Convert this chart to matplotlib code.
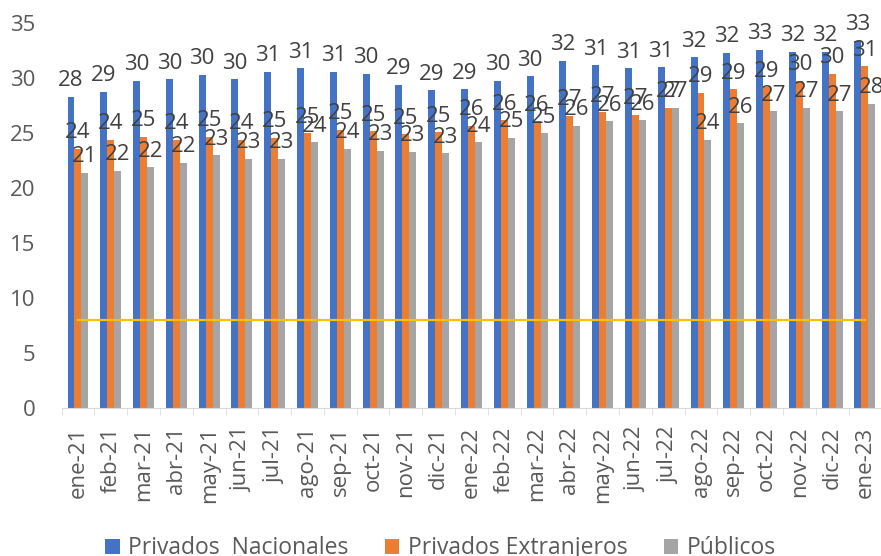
import numpy as np
import matplotlib.pyplot as plt

plt.rcParams['font.family'] = ['Open Sans', 'DejaVu Sans']

meses = ['ene-21', 'feb-21', 'mar-21', 'abr-21', 'may-21', 'jun-21', 'jul-21', 'ago-21',
         'sep-21', 'oct-21', 'nov-21', 'dic-21', 'ene-22', 'feb-22', 'mar-22', 'abr-22',
         'may-22', 'jun-22', 'jul-22', 'ago-22', 'sep-22', 'oct-22', 'nov-22', 'dic-22', 'ene-23']

privados_nacionales = [28.3, 28.8, 29.8, 29.9, 30.3, 29.9, 30.6, 30.9, 30.6, 30.4, 29.4, 28.9, 29.0,
                       29.8, 30.2, 31.6, 31.2, 30.9, 31.0, 31.9, 32.3, 32.6, 32.4, 32.4, 33.4]
privados_extranjeros = [23.6, 24.4, 24.7, 24.4, 24.7, 24.4, 24.6, 25.0, 25.3, 25.2, 24.9, 25.1, 25.7,
                        26.2, 26.1, 26.6, 26.9, 26.7, 27.3, 28.7, 29.0, 29.2, 29.8, 30.4, 31.1]
publicos = [21.4, 21.6, 21.9, 22.3, 23.0, 22.7, 22.7, 24.2, 23.6, 23.4, 23.3, 23.2, 24.2,
            24.6, 25.0, 25.7, 26.1, 26.2, 27.3, 24.4, 25.9, 27.0, 27.3, 27.0, 27.7]
referencia = [8] * len(meses)  # linea horizontal

series = [('Privados  Nacionales', privados_nacionales, '#4472C4'),
          ('Privados Extranjeros', privados_extranjeros, '#ED7D31'),
          ('Públicos', publicos, '#A5A5A5')]

fig = plt.figure(figsize=(8.81, 5.56), dpi=100)
ax = fig.add_axes([0.0699, 0.2656, 0.9305, 0.6924])

x = np.arange(len(meses))
w = 0.213  # ancho de cada barra

for i, (nombre, vals, color) in enumerate(series):
    bars = ax.bar(x + (i - 1) * w, vals, w, color=color, label=nombre)
    for b, v in zip(bars, vals):
        ax.annotate('{:.0f}'.format(v), (b.get_x() + b.get_width() / 2, v),
                    xytext=(0, 4), textcoords='offset points', ha='center', va='bottom',
                    fontsize=16, color='#404040')

ax.plot(x, referencia, color='#FFC000', lw=1.6)

ax.set_xlim(-0.5, len(meses) - 0.5)
ax.set_ylim(0, 35)
ax.set_yticks(range(0, 36, 5))
ax.set_xticks(x)
ax.set_xticklabels(meses, rotation=90)
ax.set_xticks(np.arange(-0.5, len(meses), 1), minor=True)

for s in ['top', 'right', 'left']:
    ax.spines[s].set_visible(False)
ax.spines['bottom'].set_color('#D9D9D9')

ax.tick_params(axis='y', length=0, pad=19, labelsize=16, labelcolor='#595959')
ax.tick_params(axis='x', which='major', length=0, pad=13, labelsize=16, labelcolor='#595959')
ax.tick_params(axis='x', which='minor', length=5, color='#D9D9D9')

fig.legend(loc='center', bbox_to_anchor=(0.5, 0.014), ncol=3, frameon=False, fontsize=16.5,
           handlelength=0.63, handleheight=0.63, handletextpad=0.36, columnspacing=1.6,
           labelcolor='#595959')

fig.savefig('out.png', dpi=100)
